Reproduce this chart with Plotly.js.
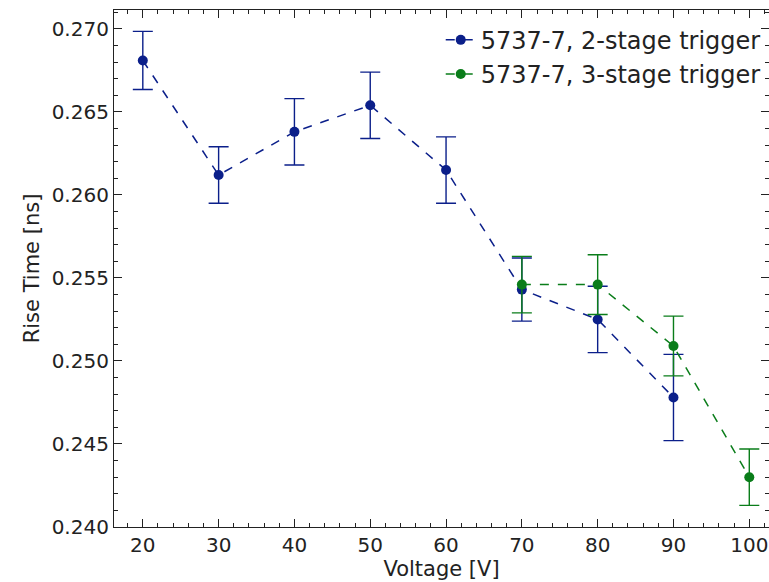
<!DOCTYPE html>
<html><head><meta charset="utf-8">
<script src="https://cdn.plot.ly/plotly-3.0.1.min.js"></script>
<style>body{margin:0;padding:0;background:#fff}#chart{width:769px;height:582px}</style>
</head><body><div id="chart"></div>
<script>
const voltage2 = [20, 30, 40, 50, 60, 70, 80, 90];
const rise2 = [0.2681, 0.2612, 0.2638, 0.2654, 0.2615, 0.2543, 0.2525, 0.2478];
const err2 = [0.00175, 0.0017, 0.0020, 0.0020, 0.0020, 0.0019, 0.0020, 0.0026];
const voltage3 = [70, 80, 90, 100];
const rise3 = [0.2546, 0.2546, 0.2509, 0.2430];
const err3 = [0.0017, 0.0018, 0.0018, 0.0017];
const names = ["5737-7, 2-stage trigger", "5737-7, 3-stage trigger"];

const font = {family: "DejaVu Sans", size: 20, color: "#222"};
function tr(x, y, e, name, col) {
  return {x: x, y: y, name: name, type: "scatter", mode: "lines+markers",
    line: {color: col, dash: "dash", width: 1.5},
    marker: {color: col, size: 10},
    error_y: {type: "data", array: e, visible: true, color: col, thickness: 1.4, width: 10}};
}
const data = [tr(voltage2, rise2, err2, names[0], "#0b1f8a"), tr(voltage3, rise3, err3, names[1], "#0a7d1a")];
const axisCommon = {showgrid: false, zeroline: false, showline: true, linecolor: "#222", linewidth: 1.2,
  mirror: "allticks", ticks: "inside", ticklen: 8, tickcolor: "#222", tickfont: font};
const titleFont = {family: "DejaVu Sans", size: 21, color: "#222"};
const layout = {
  width: 769, height: 582, margin: {l: 114, r: 0, t: 10, b: 55},
  paper_bgcolor: "#fff", plot_bgcolor: "#fff", font: font,
  xaxis: Object.assign({}, axisCommon, {range: [16.2, 102.6], dtick: 10, tick0: 0,
    minor: {dtick: 2, ticks: "inside", ticklen: 4, tickcolor: "#222"},
    title: {text: "Voltage [V]", font: titleFont, standoff: 2}}),
  yaxis: Object.assign({}, axisCommon, {range: [0.240, 0.27114], dtick: 0.005, tick0: 0, tickformat: ".3f",
    minor: {dtick: 0.001, ticks: "inside", ticklen: 4, tickcolor: "#222"},
    title: {text: "Rise Time [ns]", font: titleFont, standoff: 6}}),
  legend: {x: 0.995, y: 0.985, xanchor: "right", yanchor: "top", bgcolor: "rgba(255,255,255,0)",
    font: {family: "DejaVu Sans", size: 24, color: "#222"}, tracegroupgap: 0},
  showlegend: true
};
Plotly.newPlot("chart", data, layout, {displayModeBar: false});
</script></body></html>
